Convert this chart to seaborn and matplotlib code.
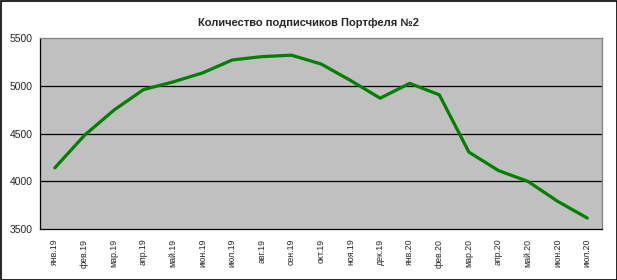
import matplotlib
matplotlib.use("Agg")
import matplotlib.pyplot as plt
import seaborn as sns
import pandas as pd
import numpy as np
from matplotlib.patches import Rectangle

months = ["янв.19", "фев.19", "мар.19", "апр.19", "май.19", "июн.19", "июл.19",
          "авг.19", "сен.19", "окт.19", "ноя.19", "дек.19", "янв.20", "фев.20",
          "мар.20", "апр.20", "май.20", "июн.20", "июл.20"]
subscribers = [4140, 4480, 4745, 4960, 5040, 5135, 5270, 5305, 5320, 5228,
               5055, 4870, 5025, 4905, 4305, 4112, 3998, 3790, 3615]
y_ticks = [3500, 4000, 4500, 5000, 5500]
title = "Количество подписчиков Портфеля №2"

sns.set_theme(style="white")
plt.rcParams['font.family'] = ['Liberation Sans', 'DejaVu Sans']

df = pd.DataFrame({"month": months, "value": subscribers})
df["pos"] = np.arange(len(months))

fig = plt.figure(figsize=(6.17, 2.80), dpi=100)
fig.patch.set_facecolor("white")
ax = fig.add_axes([40/617, 1-229/280, 562/617, 191/280])
ax.set_facecolor("#C0C0C0")

sns.lineplot(data=df, x="pos", y="value", ax=ax, color="#008000", linewidth=2.3)

ax.set_xlim(-0.5, len(months)-0.5)
ax.set_ylim(3500, 5500)
ax.set_yticks(y_ticks)
ax.set_yticklabels([str(v) for v in y_ticks], fontsize=7.5)
for v in y_ticks[1:-1]:
    ax.axhline(v, color="black", linewidth=0.9, zorder=1)

ax.set_xticks(np.arange(len(months)))
ax.set_xticklabels(months, rotation=90, fontsize=6.3)
ax.set_xticks(np.arange(-0.5, len(months)), minor=True)
ax.tick_params(axis="x", which="major", length=0, pad=7)
ax.tick_params(axis="x", which="minor", length=3, width=0.8, color="black", direction="out")
ax.tick_params(axis="y", which="major", length=3, width=0.8, color="black", direction="out", pad=2)
ax.set_xlabel("")
ax.set_ylabel("")

for side in ["top", "right"]:
    ax.spines[side].set_color("#808080")
    ax.spines[side].set_linewidth(0.9)
for side in ["left", "bottom"]:
    ax.spines[side].set_color("black")
    ax.spines[side].set_linewidth(0.9)
    ax.spines[side].set_visible(True)
ax.spines["top"].set_visible(True)
ax.spines["right"].set_visible(True)

fig.text(308/617, 1-23/280, title, ha="center", va="center", fontsize=8, fontweight="bold")

fig.patches.append(Rectangle((0.5/617, 0.5/280), 1-1/617, 1-1/280, transform=fig.transFigure,
                             fill=False, edgecolor="black", linewidth=1.2))

fig.savefig("out.png", dpi=100)
